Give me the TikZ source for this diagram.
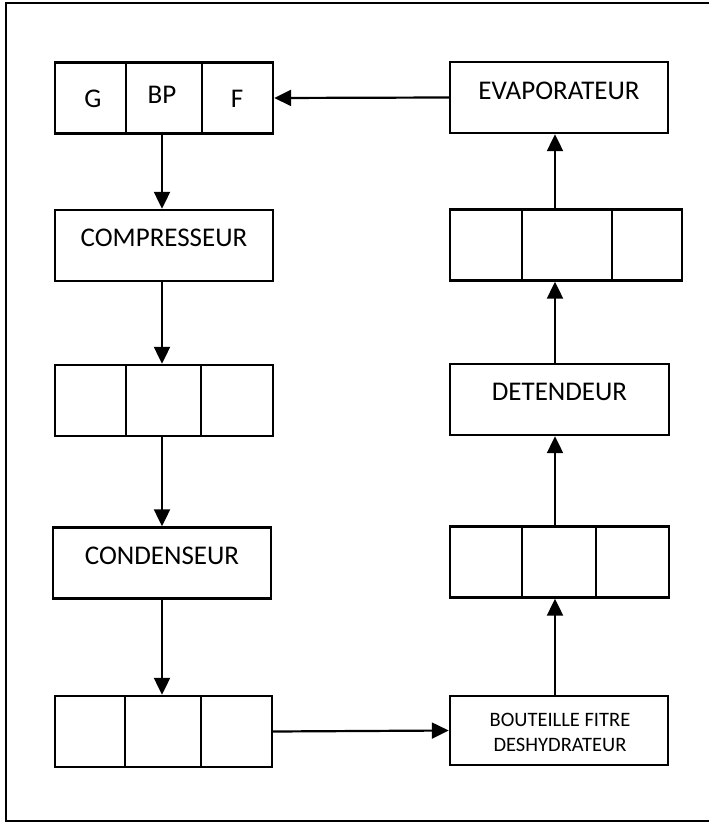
\documentclass[tikz,border=0pt]{standalone}
\usepackage{fontspec}
\setmainfont{Carlito}
\usetikzlibrary{arrows.meta}
\begin{document}
\begin{tikzpicture}[x=1pt,y=-1pt,
  cell/.style={draw,line width=2.4pt,inner sep=0pt,minimum height=71pt},
  lbl/.style={font=\fontsize{27}{30}\selectfont,inner sep=0pt},
  small/.style={font=\fontsize{20.5}{25}\selectfont,inner sep=0pt,align=center},
  arr/.style={line width=2.2pt,-{Triangle[length=17pt,width=16pt]}}]
\useasboundingbox (0,0) rectangle (709,824);
\draw[line width=2.4pt] (709,3) -- (6,3) -- (6,821) -- (709,821);
% column x references
\coordinate (lc) at (162,0);
\coordinate (rc) at (555,0);
% top-left three-part box
\node[cell,minimum width=71pt] (a1) at (90.5,98) {};
\node[cell,minimum width=76pt] (a2) at (164,98) {};
\node[cell,minimum width=71pt] (a3) at (237.5,98) {};
\node[lbl] (tg) at (93,99) {G};
\node[lbl] (tbp) at (162,95) {BP};
\node[lbl] (tf) at (237,99) {F};
% compresseur
\node[cell,minimum width=218pt] (comp) at (164,245.5) {};
\node[lbl] (tcomp) at (164,238) {COMPRESSEUR};
% middle-left three-part box
\node[cell,minimum width=71pt] (b1) at (90.5,400.5) {};
\node[cell,minimum width=75pt] (b2) at (163.5,400.5) {};
\node[cell,minimum width=72pt] (b3) at (237,400.5) {};
% condenseur
\node[cell,minimum width=218pt] (cond) at (162,563) {};
\node[lbl] (tcond) at (162,556) {CONDENSEUR};
% bottom-left three-part box
\node[cell,minimum width=70pt] (c1) at (90,731.5) {};
\node[cell,minimum width=76pt] (c2) at (163,731.5) {};
\node[cell,minimum width=71pt] (c3) at (236.5,731.5) {};
% right column
\node[cell,minimum width=218pt] (evap) at (559,97.5) {};
\node[lbl] (tevap) at (559,91) {EVAPORATEUR};
\node[cell,minimum width=72pt] (d1) at (486,245) {};
\node[cell,minimum width=90pt] (d2) at (567,245) {};
\node[cell,minimum width=70pt] (d3) at (647,245) {};
\node[cell,minimum width=219pt] (det) at (559.5,399.5) {};
\node[lbl] (tdet) at (559.5,392) {DETENDEUR};
\node[cell,minimum width=72pt] (e1) at (486,562) {};
\node[cell,minimum width=74pt] (e2) at (559,562) {};
\node[cell,minimum width=73pt] (e3) at (632.5,562) {};
\node[cell,minimum width=218pt,minimum height=69pt] (bout) at (559,730.5) {};
\node[small] (tbout) at (560,732) {BOUTEILLE FITRE\\DESHYDRATEUR};
% connectors
\draw[arr] (evap.west) -- (a3.east);
\draw[arr] (a2.south -| lc) -- (comp.north -| lc);
\draw[arr] (comp.south -| lc) -- (b2.north -| lc);
\draw[arr] (b2.south -| lc) -- (cond.north -| lc);
\draw[arr] (cond.south -| lc) -- (c2.north -| lc);
\draw[arr] (c3.east) -- (bout.west);
\draw[arr] (bout.north -| rc) -- (e2.south -| rc);
\draw[arr] (e2.north -| rc) -- (det.south -| rc);
\draw[arr] (det.north -| rc) -- (d2.south -| rc);
\draw[arr] (d2.north -| rc) -- (evap.south -| rc);
\end{tikzpicture}
\end{document}
